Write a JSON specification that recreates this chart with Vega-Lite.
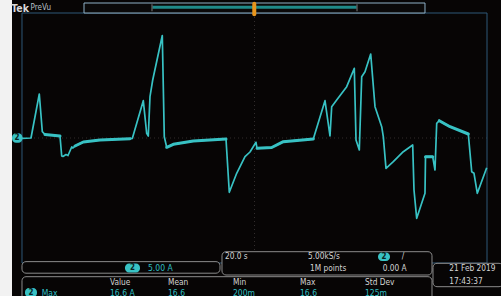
{
  "$schema": "https://vega.github.io/schema/vega-lite/v6.json",
  "width": 501,
  "height": 296,
  "padding": 0,
  "autosize": {"type": "none"},
  "background": "#070505",
  "config": {"view": {"stroke": null}, "text": {"font": "Liberation Sans Narrow, DejaVu Sans Condensed, sans-serif"}},
  "datasets": {
    "trace": [
      {"t": -100, "a": -0.05}, {"t": -96.13, "a": 0}, {"t": -92.56, "a": 7.04}, {"t": -91.27, "a": 1.01},
      {"t": -90.11, "a": 0.56, "seg": "A"}, {"t": -83.66, "a": 0.32, "seg": "A"}, {"t": -82.92, "a": -2.88}, {"t": -82.37, "a": -2.96},
      {"t": -81.08, "a": -2.64}, {"t": -80.22, "a": -2.8}, {"t": -78.62, "a": -1.44}, {"t": -78.06, "a": -1.6},
      {"t": -77.2, "a": -1.28, "seg": "B"}, {"t": -73.63, "a": -0.64, "seg": "B"}, {"t": -66.45, "a": -0.32, "seg": "B"}, {"t": -53.55, "a": -0.11, "seg": "B"},
      {"t": -52.56, "a": -0.08}, {"t": -47.83, "a": 5.97}, {"t": -46.37, "a": 0.75}, {"t": -45.68, "a": 0.32},
      {"t": -44.95, "a": 6.61}, {"t": -43.78, "a": 9.28}, {"t": -39.66, "a": 16.4}, {"t": -38.8, "a": 0.21},
      {"t": -37.76, "a": -1.49, "seg": "C"}, {"t": -34.92, "a": -1.01, "seg": "C"}, {"t": -26.32, "a": -0.48, "seg": "C"}, {"t": -12.26, "a": -0.16, "seg": "C"},
      {"t": -10.84, "a": -8.69}, {"t": -7.66, "a": -5.65}, {"t": -4.09, "a": -2.99}, {"t": -1.94, "a": -2.24},
      {"t": 0.65, "a": -0.69}, {"t": 1.08, "a": -1.65, "seg": "D"}, {"t": 7.4, "a": -1.52, "seg": "D"}, {"t": 12.39, "a": -0.59, "seg": "D"},
      {"t": 25.29, "a": -0.16, "seg": "D"}, {"t": 30.32, "a": 5.97}, {"t": 32.47, "a": 0.32}, {"t": 33.2, "a": 5.01},
      {"t": 35.35, "a": 6.08}, {"t": 39.66, "a": 8.21}, {"t": 42.92, "a": 11.15}, {"t": 43.66, "a": -0.32},
      {"t": 45.08, "a": -1.92}, {"t": 46.11, "a": 9.81}, {"t": 47.53, "a": 10.61}, {"t": 49.98, "a": 13.44},
      {"t": 51.83, "a": 5.01}, {"t": 54.71, "a": 1.81}, {"t": 55.4, "a": 0.21}, {"t": 56.56, "a": -4.85},
      {"t": 59.7, "a": -3.79}, {"t": 64.0, "a": -2.19}, {"t": 68.04, "a": -1.12}, {"t": 68.6, "a": -8.32},
      {"t": 69.76, "a": -12.85}, {"t": 73.33, "a": -8.85}, {"t": 73.55, "a": -2.99, "seg": "G"}, {"t": 76.65, "a": -2.99, "seg": "G"},
      {"t": 77.63, "a": -5.12}, {"t": 78.37, "a": 2.35}, {"t": 79.48, "a": 2.77, "seg": "E"}, {"t": 84.09, "a": 1.81, "seg": "E"},
      {"t": 91.96, "a": 0.64, "seg": "E"}, {"t": 93.42, "a": -5.39}, {"t": 94.41, "a": -5.65}, {"t": 95.83, "a": -8.85},
      {"t": 99.87, "a": -4.75}
    ],
    "boxes": [
      {"role": "strip", "t": -112, "t2": -104.3, "a": 24, "a2": -27},
      {"role": "frame", "t": -100, "t2": 100, "a": 20, "a2": -20},
      {"role": "header", "t": -73.33, "t2": 73.33, "a": 21.6, "a2": 20.0},
      {"role": "panel", "t": -100, "t2": -14.84, "a": -19.78, "a2": -21.63},
      {"role": "panel", "t": -13.98, "t2": 76.34, "a": -18.19, "a2": -21.92},
      {"role": "panel", "t": 76.77, "t2": 106.9, "a": -20.05, "a2": -23.79},
      {"role": "panel", "t": -100, "t2": 76.34, "a": -22.19, "a2": -25.92},
      {"role": "badge", "t": -55.7, "t2": -49.25, "a": -20.08, "a2": -21.52},
      {"role": "badge", "t": 53.12, "t2": 58.28, "a": -18.32, "a2": -19.68},
      {"role": "badge", "t": -98.71, "t2": -93.55, "a": -24.0, "a2": -25.44},
      {"role": "badge", "t": -104.3, "t2": -99.8, "a": 0.75, "a2": -0.75}
    ],
    "lines": [
      {"role": "grid", "t": 0, "t2": 0, "a": 20, "a2": -18.2},
      {"role": "grid", "t": -100, "t2": 100, "a": 0, "a2": 0},
      {"role": "zoom", "t": -44.09, "t2": 44.09, "a": 20.91, "a2": 20.91},
      {"role": "tick", "t": -44.09, "t2": -44.09, "a": 21.4, "a2": 20.3},
      {"role": "tick", "t": 44.09, "t2": 44.09, "a": 21.4, "a2": 20.3},
      {"role": "trig", "t": -0.1, "t2": -0.1, "a": 21.5, "a2": 19.8}
    ],
    "labels": [
      {"role": "tek", "t": -104.6, "a": 20.7, "label": "Tek"},
      {"role": "grey", "t": -96.3, "a": 20.8, "label": "PreVu"},
      {"role": "teal", "t": -45.81, "a": -20.72, "label": "5.00 A"},
      {"role": "white", "t": -12.69, "a": -19.0, "label": "20.0 s"},
      {"role": "white", "t": 23.01, "a": -19.0, "label": "5.00kS/s"},
      {"role": "white", "t": 23.87, "a": -21.0, "label": "1M points"},
      {"role": "white", "t": 63.31, "a": -19.0, "label": "/"},
      {"role": "white", "t": 55.14, "a": -21.0, "label": "0.00 A"},
      {"role": "white", "t": 83.78, "a": -21.0, "label": "21 Feb  2019"},
      {"role": "white", "t": 83.78, "a": -23.0, "label": "17:43:37"},
      {"role": "white", "t": -62.15, "a": -23.25, "label": "Value"},
      {"role": "white", "t": -37.2, "a": -23.25, "label": "Mean"},
      {"role": "white", "t": -9.25, "a": -23.25, "label": "Min"},
      {"role": "white", "t": 19.57, "a": -23.25, "label": "Max"},
      {"role": "white", "t": 47.53, "a": -23.25, "label": "Std Dev"},
      {"role": "teal", "t": -91.53, "a": -24.75, "label": "Max"},
      {"role": "teal", "t": -62.15, "a": -24.75, "label": "16.6 A"},
      {"role": "teal", "t": -37.2, "a": -24.75, "label": "16.6"},
      {"role": "teal", "t": -9.25, "a": -24.75, "label": "200m"},
      {"role": "teal", "t": 19.57, "a": -24.75, "label": "16.6"},
      {"role": "teal", "t": 47.53, "a": -24.75, "label": "125m"},
      {"role": "dark", "t": -52.47, "a": -20.8, "label": "2"},
      {"role": "dark", "t": 55.7, "a": -19.0, "label": "2"},
      {"role": "dark", "t": -96.13, "a": -24.72, "label": "2"},
      {"role": "dark", "t": -102.1, "a": 0, "label": "2"}
    ]
  },
  "encoding": {
    "x": {"field": "t", "type": "quantitative", "scale": {"domain": [-109.46, 106.02], "nice": false, "zero": false}, "axis": null},
    "y": {"field": "a", "type": "quantitative", "scale": {"domain": [-25.28, 22.08], "nice": false, "zero": false}, "axis": null}
  },
  "layer": [
    {
      "data": {"name": "boxes"},
      "transform": [{"filter": "datum.role === 'strip'"}],
      "mark": {"type": "rect", "fill": "#f2f2f2"},
      "encoding": {"x2": {"field": "t2"}, "y2": {"field": "a2"}}
    },
    {
      "data": {"name": "lines"},
      "transform": [{"filter": "datum.role === 'grid'"}],
      "mark": {"type": "rule", "stroke": "#332e2e", "strokeWidth": 1, "strokeDash": [1, 3]},
      "encoding": {"x2": {"field": "t2"}, "y2": {"field": "a2"}}
    },
    {
      "data": {"name": "boxes"},
      "transform": [{"filter": "datum.role === 'frame'"}],
      "mark": {"type": "rect", "fill": null, "fillOpacity": 0, "stroke": "#2e5878", "strokeWidth": 1},
      "encoding": {"x2": {"field": "t2"}, "y2": {"field": "a2"}}
    },
    {
      "data": {"name": "boxes"},
      "transform": [{"filter": "datum.role === 'header'"}],
      "mark": {"type": "rect", "fill": "#0a0909", "stroke": "#8fb2c8", "strokeWidth": 1},
      "encoding": {"x2": {"field": "t2"}, "y2": {"field": "a2"}}
    },
    {
      "data": {"name": "lines"},
      "transform": [{"filter": "datum.role === 'zoom'"}],
      "mark": {"type": "rule", "stroke": "#1f8a8a", "strokeWidth": 3},
      "encoding": {"x2": {"field": "t2"}, "y2": {"field": "a2"}}
    },
    {
      "data": {"name": "lines"},
      "transform": [{"filter": "datum.role === 'tick'"}],
      "mark": {"type": "rule", "stroke": "#555555", "strokeWidth": 1.5},
      "encoding": {"x2": {"field": "t2"}, "y2": {"field": "a2"}}
    },
    {
      "data": {"name": "lines"},
      "transform": [{"filter": "datum.role === 'trig'"}],
      "mark": {"type": "rule", "stroke": "#e8951c", "strokeWidth": 4, "strokeCap": "round"},
      "encoding": {"x2": {"field": "t2"}, "y2": {"field": "a2"}}
    },
    {
      "data": {"name": "trace"},
      "mark": {"type": "line", "stroke": "#38c2c4", "strokeWidth": 1.7, "strokeJoin": "round", "clip": false},
      "encoding": {}
    },
    {
      "data": {"name": "trace"},
      "transform": [{"filter": "isValid(datum.seg)"}],
      "mark": {"type": "line", "stroke": "#38c2c4", "strokeWidth": 3, "strokeJoin": "round", "strokeCap": "round"},
      "encoding": {"detail": {"field": "seg", "type": "nominal"}}
    },
    {
      "data": {"name": "boxes"},
      "transform": [{"filter": "datum.role === 'panel'"}],
      "mark": {"type": "rect", "fill": "#070505", "stroke": "#8c8c8c", "strokeWidth": 1, "cornerRadius": 4},
      "encoding": {"x2": {"field": "t2"}, "y2": {"field": "a2"}}
    },
    {
      "data": {"name": "boxes"},
      "transform": [{"filter": "datum.role === 'badge'"}],
      "mark": {"type": "rect", "fill": "#38c2c4", "cornerRadius": 4},
      "encoding": {"x2": {"field": "t2"}, "y2": {"field": "a2"}}
    },
    {
      "data": {"name": "labels"},
      "transform": [{"filter": "datum.role === 'tek'"}],
      "mark": {"type": "text", "align": "left", "baseline": "middle", "fontSize": 10.5, "fontWeight": "bold", "color": "#d8d8d8"},
      "encoding": {"text": {"field": "label"}}
    },
    {
      "data": {"name": "labels"},
      "transform": [{"filter": "datum.role !== 'dark' && datum.role !== 'tek'"}],
      "mark": {"type": "text", "align": "left", "baseline": "middle", "fontSize": 8.5},
      "encoding": {
        "text": {"field": "label"},
        "color": {"field": "role", "type": "nominal", "scale": {"domain": ["grey", "white", "teal"], "range": ["#b8c0c8", "#d4d4d4", "#2fbfc2"]}, "legend": null},
        "size": {"field": "role", "type": "nominal", "scale": {"domain": ["grey", "white", "teal"], "range": [8, 8.5, 8.5]}, "legend": null}
      }
    },
    {
      "data": {"name": "labels"},
      "transform": [{"filter": "datum.role === 'dark'"}],
      "mark": {"type": "text", "align": "center", "baseline": "middle", "fontSize": 8, "fontWeight": "bold", "color": "#0b2222"},
      "encoding": {"text": {"field": "label"}}
    }
  ]
}
